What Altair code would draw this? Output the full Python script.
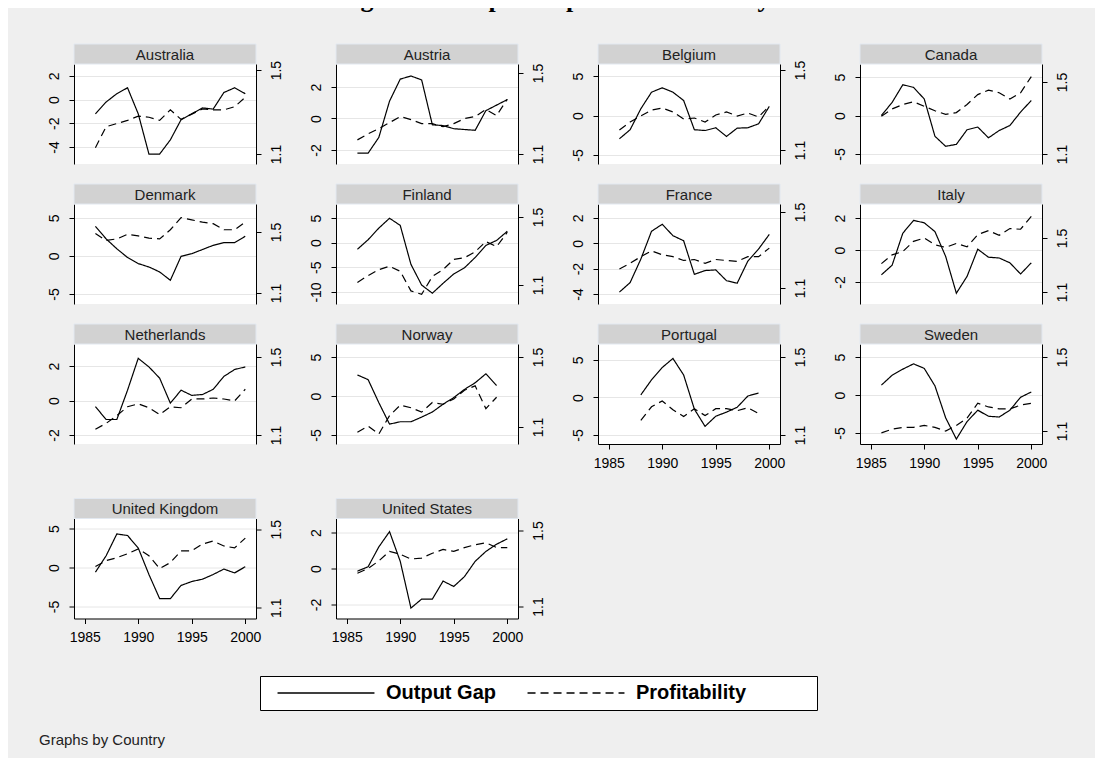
import altair as alt
import pandas as pd

# ---------------- data ----------------
YEARS = list(range(1986, 2001))
COUNTRIES = ["Australia", "Austria", "Belgium", "Canada",
             "Denmark", "Finland", "France", "Italy",
             "Netherlands", "Norway", "Portugal", "Sweden",
             "United Kingdom", "United States"]

OUTPUT_GAP = {
    "Australia": [-1.2, -0.2, 0.5, 1.0, -1.2, -4.6, -4.6, -3.4, -1.7, -1.2, -0.7, -0.8, 0.6, 1.0, 0.5],
    "Austria": [-2.2, -2.2, -1.2, 1.1, 2.5, 2.7, 2.45, -0.4, -0.45, -0.65, -0.7, -0.75, 0.5, 0.85, 1.2],
    "Belgium": [-2.95, -1.8, 0.85, 2.95, 3.5, 2.95, 1.9, -1.8, -1.9, -1.55, -2.65, -1.6, -1.55, -1.05, 1.15],
    "Canada": [0.0, 1.7, 4.0, 3.65, 2.15, -2.7, -4.0, -3.75, -1.85, -1.5, -2.9, -1.95, -1.3, 0.45, 1.95],
    "Denmark": [3.9, 2.25, 0.95, -0.2, -1.0, -1.45, -2.1, -3.2, -0.05, 0.3, 0.85, 1.4, 1.75, 1.75, 2.6],
    "Finland": [-1.35, 0.6, 2.95, 4.95, 3.5, -4.4, -8.6, -10.25, -8.25, -6.35, -5.1, -3.0, -0.55, 0.45, 2.3],
    "France": [-3.85, -3.1, -1.25, 0.95, 1.5, 0.6, 0.2, -2.45, -2.15, -2.1, -2.95, -3.15, -1.4, -0.45, 0.7],
    "Italy": [-1.55, -0.95, 1.05, 1.85, 1.7, 1.15, -0.4, -2.7, -1.65, 0.05, -0.45, -0.5, -0.8, -1.5, -0.8],
    "Netherlands": [-0.35, -1.1, -1.1, 0.6, 2.45, 1.95, 1.3, -0.15, 0.6, 0.3, 0.35, 0.65, 1.4, 1.8, 1.95],
    "Norway": [2.7, 2.1, -0.85, -3.6, -3.3, -3.3, -2.7, -2.05, -1.05, -0.2, 0.85, 1.7, 2.85, 1.35, None],
    "Portugal": [None, None, 0.35, 2.35, 4.0, 5.2, 3.0, -1.55, -3.85, -2.5, -1.95, -1.3, 0.2, 0.6, None],
    "Sweden": [1.3, 2.6, 3.4, 4.1, 3.5, 1.2, -3.0, -5.8, -3.5, -2.0, -2.8, -2.9, -2.0, -0.3, 0.4],
    "United Kingdom": [-0.6, 1.5, 4.3, 4.1, 2.5, -0.9, -4.0, -4.0, -2.3, -1.8, -1.5, -0.9, -0.2, -0.7, 0.1],
    "United States": [-0.15, 0.1, 1.2, 2.05, 0.4, -2.2, -1.7, -1.7, -0.7, -1.0, -0.45, 0.4, 0.95, 1.35, 1.65],
}

PROFITABILITY = {
    "Australia": [1.13, 1.23, 1.245, 1.26, 1.28, 1.275, 1.26, 1.31, 1.265, 1.29, 1.315, 1.31, 1.31, 1.325, 1.37],
    "Austria": [1.17, 1.2, 1.225, 1.255, 1.285, 1.27, 1.25, 1.25, 1.235, 1.25, 1.275, 1.285, 1.32, 1.29, 1.37],
    "Belgium": [1.2, 1.24, 1.27, 1.3, 1.31, 1.29, 1.255, 1.26, 1.24, 1.275, 1.29, 1.27, 1.285, 1.265, 1.32],
    "Canada": [1.31, 1.35, 1.375, 1.39, 1.365, 1.34, 1.32, 1.33, 1.375, 1.43, 1.455, 1.44, 1.405, 1.44, 1.53],
    "Denmark": [1.49, 1.445, 1.455, 1.485, 1.475, 1.46, 1.455, 1.515, 1.595, 1.58, 1.565, 1.555, 1.515, 1.515, 1.565],
    "Finland": [1.115, 1.155, 1.19, 1.21, 1.18, 1.065, 1.045, 1.15, 1.19, 1.25, 1.26, 1.295, 1.355, 1.325, 1.41],
    "France": [1.2, 1.23, 1.265, 1.295, 1.275, 1.265, 1.245, 1.25, 1.23, 1.25, 1.245, 1.24, 1.265, 1.265, 1.31],
    "Italy": [1.31, 1.375, 1.4, 1.475, 1.5, 1.45, 1.43, 1.46, 1.435, 1.525, 1.555, 1.52, 1.57, 1.565, 1.66],
    "Netherlands": [1.13, 1.16, 1.2, 1.245, 1.26, 1.24, 1.205, 1.245, 1.24, 1.285, 1.285, 1.29, 1.285, 1.275, 1.335],
    "Norway": [1.07, 1.105, 1.06, 1.165, 1.225, 1.21, 1.185, 1.24, 1.23, 1.26, 1.31, 1.335, 1.205, 1.27, None],
    "Portugal": [None, None, 1.175, 1.245, 1.275, 1.23, 1.195, 1.235, 1.2, 1.235, 1.235, 1.225, 1.24, 1.21, None],
    "Sweden": [1.09, 1.11, 1.12, 1.12, 1.13, 1.12, 1.1, 1.13, 1.17, 1.25, 1.23, 1.22, 1.22, 1.24, 1.25],
    "United Kingdom": [1.31, 1.34, 1.355, 1.375, 1.4, 1.365, 1.3, 1.33, 1.39, 1.39, 1.425, 1.44, 1.415, 1.405, 1.455],
    "United States": [1.275, 1.3, 1.34, 1.39, 1.375, 1.35, 1.355, 1.38, 1.4, 1.39, 1.41, 1.425, 1.435, 1.41, 1.41],
}

SERIES = ["Output Gap", "Profitability"]
X_TICKS = [1985, 1990, 1995, 2000]
RIGHT_TICKS = [1.1, 1.5]
LEFT_TICKS = {
    "Australia": [-4, -2, 0, 2], "Austria": [-2, 0, 2], "Belgium": [-5, 0, 5],
    "Canada": [-5, 0, 5], "Denmark": [-5, 0, 5], "Finland": [-10, -5, 0, 5],
    "France": [-4, -2, 0, 2], "Italy": [-2, 0, 2], "Netherlands": [-2, 0, 2],
    "Norway": [-5, 0, 5], "Portugal": [-5, 0, 5], "Sweden": [-5, 0, 5],
    "United Kingdom": [-5, 0, 5], "United States": [-2, 0, 2],
}
TITLE = "Figure 1: Output Gap and Profitability"
NOTE = "Graphs by Country"

# ---------------- style / layout ----------------
LEFT_DOMAIN = {
    "Australia": [-5.44, 3.01], "Austria": [-2.89, 3.46], "Belgium": [-6.14, 6.52],
    "Canada": [-6.3, 6.69], "Denmark": [-6.32, 6.84], "Finland": [-12.44, 7.84],
    "France": [-4.79, 3.1], "Italy": [-3.375, 2.875], "Netherlands": [-2.52, 3.28],
    "Norway": [-6.15, 6.67], "Portugal": [-6.2, 7.13], "Sweden": [-6.45, 6.71],
    "United Kingdom": [-6.54, 6.28], "United States": [-2.78, 2.78],
}
RIGHT_DOMAIN = {
    "Australia": [1.052, 1.529], "Austria": [1.051, 1.544], "Belgium": [1.03, 1.53],
    "Canada": [1.044, 1.6], "Denmark": [1.028, 1.684], "Finland": [0.988, 1.576],
    "France": [1.016, 1.542], "Italy": [1.011, 1.752], "Netherlands": [1.054, 1.567],
    "Norway": [1.003, 1.574], "Portugal": [1.054, 1.567], "Sweden": [1.03, 1.57],
    "United Kingdom": [1.045, 1.555], "United States": [1.037, 1.563],
}
BOTTOM = {"Portugal", "Sweden", "United Kingdom", "United States"}

W, H = 182, 100
FONT = "Liberation Sans"
LINE_W = 1.2

dash_scale = alt.Scale(domain=SERIES, range=[[1, 0], [8, 5]])
legend = alt.Legend(
    title="\u00a0", titleOrient="right", titlePadding=64, titleFontSize=1,
    orient="none", legendX=186, legendY=612, direction="horizontal",
    symbolType="M-6,0H6", symbolSize=261, symbolStrokeWidth=1.6,
    symbolStrokeColor="black", symbolOffset=49, labelOffset=50,
    labelFont=FONT, labelFontSize=20, labelFontWeight="bold", labelColor="black",
    columnPadding=21, padding=7, fillColor="white", strokeColor="black",
    cornerRadius=0,
)


def x_enc(country):
    if country in BOTTOM:
        axis = alt.Axis(values=X_TICKS, format="d", title=None, grid=False,
                        tickSize=5, tickColor="black", domainColor="black",
                        labelFont=FONT, labelFontSize=14, labelColor="black",
                        labelPadding=7, labelFlush=False)
    else:
        axis = None
    return alt.X("year:Q", scale=alt.Scale(domain=[1984, 2001], nice=False, zero=False), axis=axis)


def panel(country):
    gap_df = pd.DataFrame({"year": YEARS, "value": OUTPUT_GAP[country],
                           "series": SERIES[0]}).dropna()
    prof_df = pd.DataFrame({"year": YEARS, "value": PROFITABILITY[country],
                            "series": SERIES[1]}).dropna()
    hdr = alt.Chart(pd.DataFrame({"country": [country]}))
    rect = hdr.mark_rect(fill="#D2D2D2", stroke="#E2E8F0", strokeWidth=1).encode(
        x=alt.value(0), x2=alt.value(W), y=alt.value(-20), y2=alt.value(0))
    txt = hdr.mark_text(font=FONT, fontSize=15, color="#222222").encode(
        text="country:N", x=alt.value(W / 2), y=alt.value(-9.5))

    left_axis = alt.Axis(orient="left", values=LEFT_TICKS[country], title=None,
                         labelExpr="'' + datum.value", grid=True, gridColor="#E6E6E6",
                         tickSize=5, tickColor="black", domainColor="black",
                         labelAngle=270, labelAlign="center", labelBaseline="bottom",
                         labelPadding=8, labelFont=FONT, labelFontSize=14,
                         labelColor="black", labelOverlap=False, labelFlush=False)
    right_axis = alt.Axis(orient="right", values=RIGHT_TICKS, format=".1f", title=None,
                          grid=False, tickSize=5, tickColor="black", domainColor="black",
                          labelAngle=270, labelAlign="center", labelBaseline="top",
                          labelPadding=8, labelFont=FONT, labelFontSize=14,
                          labelColor="black", labelOverlap=False, labelFlush=False)

    gap = alt.Chart(gap_df).mark_line(color="black", strokeWidth=LINE_W).encode(
        x=x_enc(country),
        y=alt.Y("value:Q", scale=alt.Scale(domain=LEFT_DOMAIN[country], nice=False, zero=False),
                axis=left_axis),
        strokeDash=alt.StrokeDash("series:N", scale=dash_scale, legend=legend),
    )
    prof = alt.Chart(prof_df).mark_line(color="black", strokeWidth=LINE_W).encode(
        x=x_enc(country),
        y=alt.Y("value:Q", scale=alt.Scale(domain=RIGHT_DOMAIN[country], nice=False, zero=False),
                axis=right_axis),
        strokeDash=alt.StrokeDash("series:N", scale=dash_scale, legend=legend),
    )
    return alt.layer(rect, txt, gap, prof).resolve_scale(y="independent").properties(
        width=W, height=H)


rows = [COUNTRIES[i:i + 4] for i in range(0, len(COUNTRIES), 4)]
row_charts = [alt.hconcat(*[panel(c) for c in r], spacing=80, bounds="flush") for r in rows]
grid = alt.vconcat(
    alt.vconcat(*row_charts[:3], spacing=19),
    row_charts[3], spacing=27.5,
).properties(title=alt.TitleParams(NOTE, orient="bottom", anchor="start", dx=-8, offset=88,
                                   font=FONT, fontSize=15, fontWeight="normal",
                                   color="#222222"))

chart = alt.vconcat(grid).properties(
    title=alt.TitleParams(TITLE, font="Liberation Serif", fontSize=26, fontWeight="bold",
                          color="black", anchor="middle", offset=32),
    padding={"left": 30, "top": -23, "right": 26, "bottom": 10},
    background="#EFEFEF",
).configure_view(fill="white", strokeWidth=0)

chart.save("out.html", embed_options={"renderer": "svg", "actions": False})
